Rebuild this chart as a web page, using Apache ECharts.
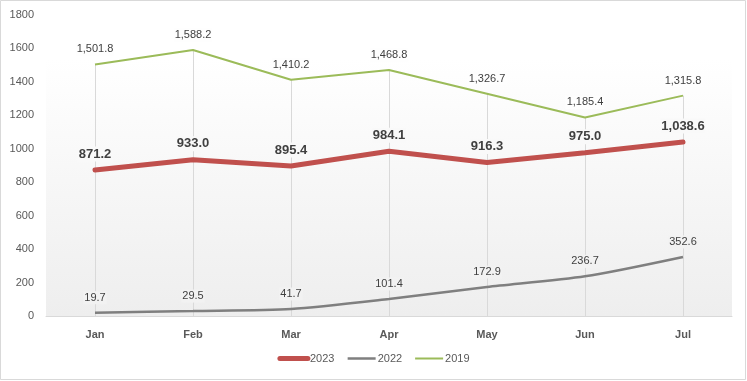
<!DOCTYPE html>
<html><head><meta charset="utf-8">
<script src="https://cdn.jsdelivr.net/npm/echarts@6/dist/echarts.min.js"></script>
<style>html,body{margin:0;padding:0;background:#fff}#c{width:747px;height:381px}</style>
</head><body><div id="c"></div>
<script>
const categories = ['Jan','Feb','Mar','Apr','May','Jun','Jul'];
const s2023 = [871.2, 933.0, 895.4, 984.1, 916.3, 975.0, 1038.6];
const s2022 = [19.7, 29.5, 41.7, 101.4, 172.9, 236.7, 352.6];
const s2019 = [1501.8, 1588.2, 1410.2, 1468.8, 1326.7, 1185.4, 1315.8];
const yTicks = {min: 0, max: 1800, interval: 200};

const font = 'Liberation Sans, Arial, sans-serif';
const fmt = p => p.value.toLocaleString('en-US', {minimumFractionDigits: 1, maximumFractionDigits: 1});

const chart = echarts.init(document.getElementById('c'), null, {renderer: 'canvas'});
chart.setOption({
  animation: false,
  backgroundColor: '#fff',
  textStyle: {fontFamily: font},
  graphic: [{type: 'rect', shape: {x: 0.5, y: 0.5, width: 745, height: 379}, style: {fill: 'none', stroke: '#d9d9d9', lineWidth: 1}, z: 100}],
  grid: {left: 46, right: 15, top: 14.5, bottom: 65, show: true, borderWidth: 0,
    backgroundColor: new echarts.graphic.LinearGradient(0, 0, 0, 1, [
      {offset: 0, color: '#ffffff'}, {offset: 0.15, color: '#ffffff'}, {offset: 1, color: '#eeeeee'}])},
  legend: {
    data: [
      {name: '2023', lineStyle: {width: 5, color: '#c0504d', cap: 'round'}},
      {name: '2022', lineStyle: {width: 2.5, color: '#7f7f7f'}},
      {name: '2019', lineStyle: {width: 2, color: '#9bbb59'}}
    ],
    bottom: 12, left: 'center',
    itemWidth: 28, itemHeight: 10, itemGap: 12,
    itemStyle: {color: 'transparent', borderWidth: 0},
    textStyle: {color: '#595959', fontSize: 11, fontFamily: font, padding: [0, 0, 0, -3]}
  },
  xAxis: {
    type: 'category', data: categories, boundaryGap: true,
    axisLine: {show: true, lineStyle: {color: '#d9d9d9', width: 1}},
    axisTick: {show: false},
    axisLabel: {color: '#595959', fontSize: 11, fontWeight: 'bold', margin: 13, fontFamily: font},
    splitLine: {show: false}
  },
  yAxis: {
    type: 'value', min: yTicks.min, max: yTicks.max, interval: yTicks.interval,
    axisLine: {show: false}, axisTick: {show: false}, splitLine: {show: false},
    axisLabel: {color: '#595959', fontSize: 11, margin: 12, fontFamily: font, formatter: v => String(v)}
  },
  series: [
    {
      name: 'drops', type: 'line', data: [], z: 1, silent: true,
      markLine: {
        z: 1, silent: true, symbol: 'none', label: {show: false},
        lineStyle: {color: '#d9d9d9', width: 1, type: 'solid'},
        data: s2019.map((v, i) => [{coord: [i, v]}, {coord: [i, 0]}])
      }
    },
    {
      name: '2019', type: 'line', data: s2019, symbol: 'circle', symbolSize: 1, showSymbol: true, z: 3,
      lineStyle: {color: '#9bbb59', width: 2}, itemStyle: {color: 'transparent'},
      label: {show: true, position: 'top', distance: 8, color: '#404040', fontSize: 11, formatter: fmt,
        backgroundColor: '#fefefe', padding: [1, 1]}
    },
    {
      name: '2022', type: 'line', data: s2022, symbol: 'circle', symbolSize: 1, showSymbol: true, smooth: 0.25, z: 3,
      lineStyle: {color: '#7f7f7f', width: 2.5}, itemStyle: {color: 'transparent'},
      label: {show: true, position: 'top', distance: 8, color: '#404040', fontSize: 11, formatter: fmt,
        backgroundColor: '#f2f2f2', padding: [1, 1]}
    },
    {
      name: '2023', type: 'line', data: s2023, symbol: 'circle', symbolSize: 1, showSymbol: true, z: 4,
      lineStyle: {color: '#c0504d', width: 5, cap: 'round'}, itemStyle: {color: 'transparent'},
      label: {show: true, position: 'top', distance: 8, color: '#404040', fontSize: 13, fontWeight: 'bold', formatter: fmt,
        backgroundColor: '#f9f9f9', padding: [1, 1]}
    }
  ]
});
</script></body></html>
